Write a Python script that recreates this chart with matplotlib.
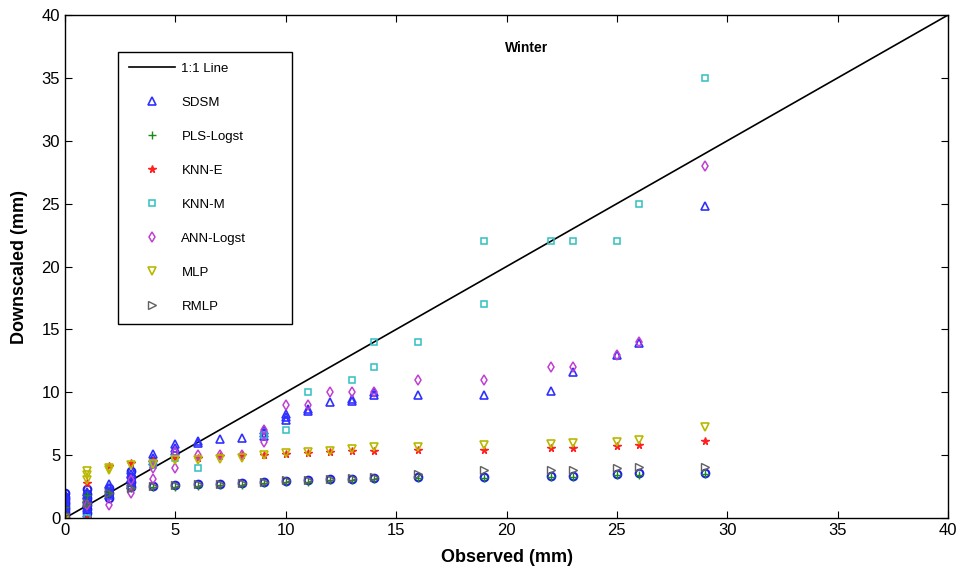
import numpy as np
import matplotlib
matplotlib.use('Agg')
import matplotlib.pyplot as plt

plt.rcParams['font.family'] = ['Liberation Sans', 'DejaVu Sans']

# Data
sdsm_x = [0, 0, 0, 0, 0, 0, 0, 0, 1, 1, 1, 1, 1, 1, 2, 2, 2, 2, 3, 3, 3, 3, 3,
          4, 4, 4, 5, 5, 5, 6, 6, 7, 8, 9, 9, 9, 10, 10, 10, 11, 11, 12, 13, 13,
          14, 14, 16, 19, 22, 23, 25, 26, 29]
sdsm_y = [0.3, 0.6, 0.9, 1.1, 1.3, 1.5, 1.7, 1.9, 0.4, 0.8, 1.2, 1.5, 1.8, 2.1,
          1.8, 2.1, 2.4, 2.7, 2.6, 2.9, 3.2, 3.5, 3.8, 4.5, 4.8, 5.1, 5.3, 5.6,
          5.9, 6.0, 6.1, 6.25, 6.4, 6.5, 6.8, 7.0, 7.8, 8.0, 8.3, 8.5, 8.7, 9.25,
          9.3, 9.5, 9.8, 10.0, 9.8, 9.8, 10.1, 11.6, 13.0, 13.9, 24.8]

pls_x = [0, 0, 1, 1, 2, 3, 4, 5, 6, 7, 8, 9, 10, 11, 12, 13, 14, 16, 19, 22,
         23, 25, 26, 29]
pls_y = [0.2, 0.9, 1.0, 1.8, 2.0, 2.4, 2.45, 2.5, 2.55, 2.6, 2.65, 2.75, 2.85,
         2.9, 3.0, 3.05, 3.1, 3.2, 3.2, 3.25, 3.25, 3.4, 3.45, 3.5]

knne_x = [0, 1, 1, 2, 3, 4, 5, 6, 7, 8, 9, 10, 11, 12, 13, 14, 16, 19, 22, 23,
          25, 26, 29]
knne_y = [0.0, 0.0, 2.8, 4.1, 4.4, 4.5, 4.8, 4.8, 4.9, 5.0, 5.0, 5.1, 5.2,
          5.25, 5.3, 5.33, 5.4, 5.4, 5.54, 5.6, 5.75, 5.8, 6.12]

knnm_x = [0, 1, 4, 5, 6, 9, 10, 11, 13, 14, 14, 16, 19, 19, 22, 23, 25, 26, 29]
knnm_y = [0.0, 0.0, 4.2, 4.8, 4.0, 6.6, 7.0, 10.0, 11.0, 12.0, 14.0, 14.0,
          17.0, 22.0, 22.0, 22.0, 22.0, 25.0, 35.0]

ann_x = [0, 1, 2, 3, 3, 4, 4, 5, 5, 6, 7, 8, 9, 9, 10, 11, 12, 13, 14, 16, 19,
         22, 23, 25, 26, 29]
ann_y = [0.0, 1.0, 1.0, 2.0, 3.0, 3.07, 4.0, 4.0, 5.26, 5.0, 5.0, 5.0, 6.06,
         7.0, 9.0, 9.0, 10.0, 10.0, 10.0, 11.0, 11.0, 12.0, 12.0, 13.0, 14.0,
         28.0]

mlp_x = [0, 1, 1, 1, 2, 2, 3, 4, 5, 6, 7, 8, 9, 10, 11, 12, 13, 14, 16, 19,
         22, 23, 25, 26, 29]
mlp_y = [0.0, 3.0, 3.4, 3.7, 3.8, 4.0, 4.2, 4.3, 4.6, 4.6, 4.7, 4.8, 5.0,
         5.15, 5.27, 5.3, 5.5, 5.67, 5.67, 5.8, 5.88, 5.93, 6.07, 6.2, 7.26]

rmlp_x = [0, 1, 2, 3, 4, 5, 6, 7, 8, 9, 10, 11, 12, 13, 14, 16, 19, 22, 23,
          25, 26, 29]
rmlp_y = [0.3, 1.2, 2.0, 2.4, 2.55, 2.6, 2.68, 2.72, 2.78, 2.88, 3.0, 3.05,
          3.12, 3.18, 3.3, 3.5, 3.82, 3.82, 3.85, 3.95, 4.08, 4.08]

circ_x = [0, 0, 0, 0, 0, 0, 0, 0, 0, 0, 1, 1, 1, 1, 1, 1, 1, 2, 2, 2, 3, 3, 3,
          3, 4, 5, 6, 7, 8, 9, 10, 11, 12, 13, 14, 16, 19, 22, 23, 25, 26, 29]
circ_y = [0.1, 0.3, 0.5, 0.7, 0.9, 1.1, 1.3, 1.5, 1.7, 1.95, 0.4, 0.7, 1.0,
          1.3, 1.6, 1.9, 2.3, 1.6, 2.0, 2.4, 2.5, 2.9, 3.3, 3.7, 2.54, 2.62,
          2.67, 2.7, 2.75, 2.88, 2.98, 3.02, 3.1, 3.14, 3.2, 3.29, 3.29, 3.34,
          3.34, 3.5, 3.55, 3.6]

line_x = [0, 40]

fig = plt.figure(figsize=(9.57, 5.69), dpi=100)
ax = fig.add_axes([0.068, 0.0896, 0.9226, 0.884])

ax.plot(line_x, line_x, color='black', lw=1.2, label='1:1 Line')
ax.plot(circ_x, circ_y, 'o', ms=5.5, mfc='none', mec='#1f1fe6', mew=1.5,
        label='_nolegend_')
ax.plot(sdsm_x, sdsm_y, '^', ms=5.5, mfc='none', mec='#3030ff', mew=1.2,
        label='SDSM')
ax.plot(pls_x, pls_y, '+', ms=6, color='#1a8a1a', mew=1.0, label='PLS-Logst')
ax.plot(knne_x, knne_y, '*', ms=5.5, color='#ff2020', label='KNN-E')
ax.plot(knnm_x, knnm_y, 's', ms=4.5, mfc='none', mec='#30c0c0', mew=1.1,
        label='KNN-M')
ax.plot(ann_x, ann_y, 'd', ms=5.5, mfc='none', mec='#c040d0', mew=1.1,
        label='ANN-Logst')
ax.plot(mlp_x, mlp_y, 'v', ms=5.5, mfc='none', mec='#b8b800', mew=1.2,
        label='MLP')
ax.plot(rmlp_x, rmlp_y, '>', ms=5.5, mfc='none', mec='#606060', mew=1.0,
        label='RMLP')

ax.set_xlim(0, 40)
ax.set_ylim(0, 40)
ax.set_xticks(np.arange(0, 41, 5))
ax.set_yticks(np.arange(0, 41, 5))
ax.tick_params(direction='in', top=True, right=True, labelsize=12, length=5)
ax.set_xlabel('Observed (mm)', fontsize=13, fontweight='bold', labelpad=8)
ax.set_ylabel('Downscaled (mm)', fontsize=13, fontweight='bold', labelpad=10)
for s in ax.spines.values():
    s.set_linewidth(1.0)

ax.text(0.523, 0.934, 'Winter', transform=ax.transAxes, ha='center',
        va='center', fontsize=10, fontweight='bold')

leg = ax.legend(loc='upper left', bbox_to_anchor=(0.060, 0.382, 0.197, 0.544),
                mode='expand', fontsize=9.5, frameon=True, fancybox=False,
                edgecolor='black', framealpha=1, handlelength=3.5,
                handletextpad=0.5, labelspacing=1.65, borderpad=0.8,
                borderaxespad=0)
leg.get_frame().set_linewidth(1.0)

fig.savefig('out.png', dpi=100)
